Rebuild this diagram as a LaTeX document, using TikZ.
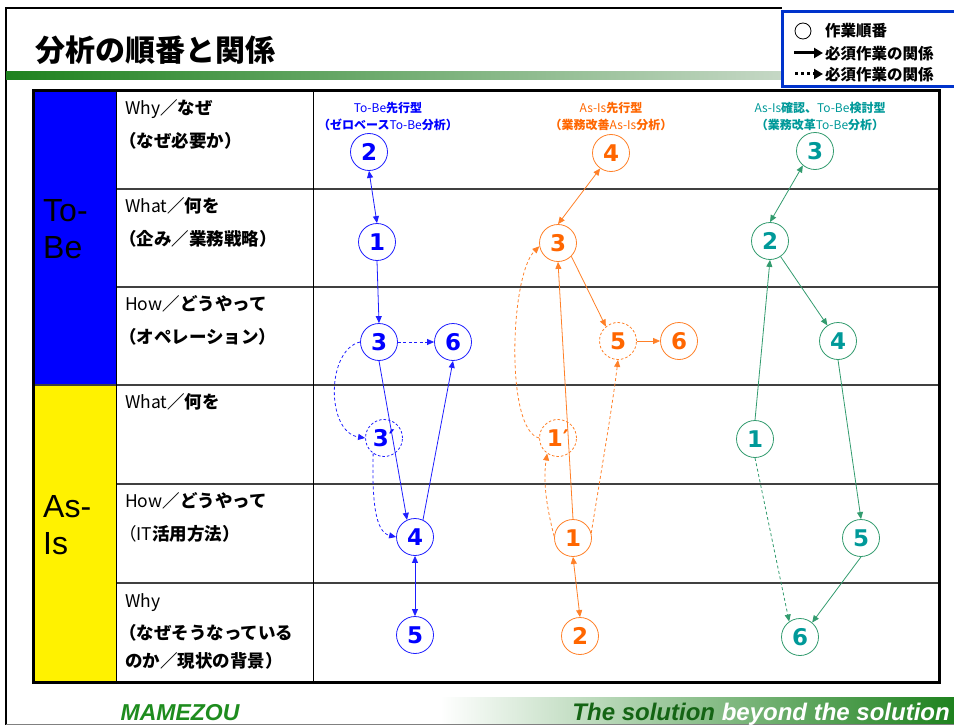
\documentclass[tikz,border=0pt]{standalone}
\usepackage{fontspec}
\setmainfont{Noto Sans CJK JP}
\newfontfamily\numfont{DejaVu Sans}
\newfontfamily\latfont{Liberation Sans}
\usetikzlibrary{arrows.meta, positioning, calc}
\definecolor{mzblue}{RGB}{0,0,255}
\definecolor{mzblueline}{RGB}{30,30,255}
\definecolor{mzorange}{RGB}{255,102,0}
\definecolor{mzorangeline}{RGB}{255,128,40}
\definecolor{mzteal}{RGB}{0,153,153}
\definecolor{mztealline}{RGB}{50,155,110}
\definecolor{mzgreen}{RGB}{30,130,30}
\definecolor{mzdarkgreen}{RGB}{20,100,20}
\definecolor{mzlogo}{RGB}{30,140,30}
\definecolor{mzlegend}{RGB}{0,51,204}

\tikzset{
  stepnode/.style={circle, draw, line width=0.8pt, minimum size=37pt, inner sep=0pt,
    font=\numfont\bfseries\fontsize{23}{23}\selectfont},
  dstepnode/.style={stepnode, dash pattern=on 2.5pt off 2pt},
  link/.style={-{Triangle[length=7pt,width=6pt]}, line width=0.8pt},
  dlink/.style={link, dash pattern=on 3pt off 2.5pt},
  blink/.style={{Triangle[length=7pt,width=6pt]}-{Triangle[length=7pt,width=6pt]}, line width=0.8pt},
  rowtext/.style={anchor=base west, inner sep=0pt, font=\fontsize{17.5}{20}\selectfont},
  colhead/.style={align=center, inner sep=0pt, font=\bfseries\fontsize{12}{17}\selectfont},
  sidetext/.style={anchor=base west, inner sep=0pt, font=\latfont\fontsize{32}{32}\selectfont},
  legendtext/.style={anchor=west, inner sep=0pt, font=\bfseries\fontsize{15.5}{15.5}\selectfont},
  rowline/.style={line width=1.5pt, black!75},
}

\begin{document}
\begin{tikzpicture}[x=1pt, y=-1pt]
\useasboundingbox (0,0) rectangle (954,725);
% Frame and title
\draw[line width=1.5pt] (6,725) -- (6,8) -- (782,8);
\shade[left color=mzgreen, right color=black!8] (6,72) rectangle (954,80);
\node[anchor=base west, inner sep=0pt, font=\bfseries\fontsize{30}{30}\selectfont] (title) at (35,62) {分析の順番と関係};
% Legend
\draw[mzlegend, line width=3pt, fill=white] (782,12) rectangle (962,87);
\node[circle, draw, line width=0.8pt, minimum size=16pt, inner sep=0pt] (lgstep) at (803,31) {};
\node[legendtext] (lgtxtA) at (825,31) {作業順番};
\coordinate (lgA1) at (794,53);
\coordinate (lgA2) at (823,53);
\draw[line width=3pt, -{Triangle[length=9pt,width=10pt]}] (lgA1) -- (lgA2);
\node[legendtext] (lgtxtB) at (825,54) {必須作業の関係};
\coordinate (lgB1) at (795,74);
\coordinate (lgB2) at (823,74);
\draw[line width=3pt, dash pattern=on 3pt off 3pt, -{Triangle[length=9pt,width=10pt]}] (lgB1) -- (lgB2);
\node[legendtext] (lgtxtC) at (825,75) {必須作業の関係};
% Table
\fill[blue] (33,91) rectangle (116,385);
\fill[yellow] (33,385) rectangle (116,682);
\foreach \ry in {189,287,484,583}
  \draw[rowline] (116,\ry) -- (939,\ry);
\draw[rowline] (33,385) -- (939,385);
\draw[line width=1pt] (116,91) -- (116,682) (313,91) -- (313,682);
\draw[line width=3pt] (33,91) rectangle (939,682);
\node[sidetext] (tobeA) at (43,221) {To-};
\node[sidetext] (tobeB) at (43,258) {Be};
\node[sidetext] (asisA) at (43,517) {As-};
\node[sidetext] (asisB) at (43,554) {Is};
% Row labels
\node[rowtext] (whyA) at (125,114) {Why\textbf{／なぜ}};
\node[rowtext] (whyB) at (119,147) {\textbf{（なぜ必要か）}};
\node[rowtext] (whatA) at (125,212) {What\textbf{／何を}};
\node[rowtext] (whatB) at (119,245) {\textbf{（企み／業務戦略）}};
\node[rowtext] (howA) at (125,310) {How\textbf{／どうやって}};
\node[rowtext] (howB) at (119,343) {\textbf{（オペレーション）}};
\node[rowtext] (whatC) at (125,408) {What\textbf{／何を}};
\node[rowtext] (howC) at (125,507) {How\textbf{／どうやって}};
\node[rowtext] (howD) at (119,540) {（IT\textbf{活用方法）}};
\node[rowtext] (whyC) at (125,607) {Why};
\node[rowtext] (whyD) at (119,639) {\textbf{（なぜそうなっている}};
\node[rowtext] (whyE) at (125,667) {\textbf{のか／現状の背景）}};
% Column heads
\node[colhead, text=mzblue] (hdblue) at (388,116) {{\mdseries To-Be}先行型\\（ゼロベース{\mdseries To-Be}分析）};
\node[colhead, text=mzorange] (hdorange) at (611,116) {{\mdseries As-Is}先行型\\（業務改善{\mdseries As-Is}分析）};
\node[colhead, text=mzteal] (hdteal) at (820,116) {{\mdseries As-Is}確認、{\mdseries To-Be}検討型\\（業務改革{\mdseries To-Be}分析）};
% To-Be first
\node[stepnode, draw=mzblueline, text=mzblue] (b2) at (369,152) {2};
\node[stepnode, draw=mzblueline, text=mzblue] (b1) at (377,242) {1};
\node[stepnode, draw=mzblueline, text=mzblue] (b3) at (379,342) {3};
\node[stepnode, draw=mzblueline, text=mzblue] (b6) at (453,342) {6};
\node[dstepnode, draw=mzblueline, text=mzblue] (b3d) at (384,438) {3′};
\node[stepnode, draw=mzblueline, text=mzblue] (b4) at (415,537) {4};
\node[stepnode, draw=mzblueline, text=mzblue] (b5) at (415,635) {5};
\draw[blink, mzblueline] (b2.south) -- (b1.north);
\draw[link, mzblueline] (b1.south) -- (b3.north);
\draw[dlink, mzblueline] (b3.east) -- (b6.west);
\draw[link, mzblueline] (b3.south) -- (b4.115);
\draw[link, mzblueline] (b4.65) -- (b6.south);
\draw[dlink, mzblueline] (b3.west) .. controls (326,350) and (326,432) .. (b3d.west);
\draw[dlink, mzblueline] (b3d.235) .. controls (372,500) and (375,532) .. (b4.west);
\draw[blink, mzblueline] (b4.south) -- (b5.north);
% As-Is first
\node[stepnode, draw=mzorangeline, text=mzorange] (o4) at (611,153) {4};
\node[stepnode, draw=mzorangeline, text=mzorange] (o3) at (558,243) {3};
\node[dstepnode, draw=mzorangeline, text=mzorange] (o5) at (618,341) {5};
\node[stepnode, draw=mzorangeline, text=mzorange] (o6) at (679,341) {6};
\node[dstepnode, draw=mzorangeline, text=mzorange] (o1d) at (558,438) {1′};
\node[stepnode, draw=mzorangeline, text=mzorange] (o1) at (573,538) {1};
\node[stepnode, draw=mzorangeline, text=mzorange] (o2) at (580,636) {2};
\draw[blink, mzorangeline] (o4.235) -- (o3.north);
\draw[link, mzorangeline] (o3.-45) -- (o5.130);
\draw[link, mzorangeline] (o5) -- (o6);
\draw[link, mzorangeline] (o1.north) -- (o3.south);
\draw[dlink, mzorangeline] (o1.175) .. controls (546,505) and (543,480) .. (o1d.235);
\draw[dlink, mzorangeline] (o1.15) .. controls (598,490) and (612,410) .. (o5.south);
\draw[dlink, mzorangeline] (o1d.west) .. controls (505,430) and (510,275) .. (o3.190);
\draw[blink, mzorangeline] (o1.south) -- (o2.north);
% As-Is check, To-Be study
\node[stepnode, draw=mztealline, text=mzteal] (t3) at (815,151) {3};
\node[stepnode, draw=mztealline, text=mzteal] (t2) at (770,241) {2};
\node[stepnode, draw=mztealline, text=mzteal] (t4) at (838,341) {4};
\node[stepnode, draw=mztealline, text=mzteal] (t1) at (755,439) {1};
\node[stepnode, draw=mztealline, text=mzteal] (t5) at (861,538) {5};
\node[stepnode, draw=mztealline, text=mzteal] (t6) at (800,637) {6};
\draw[blink, mztealline] (t3.230) -- (t2.north);
\draw[link, mztealline] (t1.north) -- (t2.south);
\draw[link, mztealline] (t2) -- (t4);
\draw[link, mztealline] (t4.south) -- (t5.north);
\draw[link, mztealline] (t5.south) -- (t6.50);
\draw[dlink, mztealline] (t1.south) -- (t6.125);
% Footer
\shade[left color=white, right color=mzgreen] (440,697) rectangle (954,725);
\draw[black!50, line width=0.8pt] (6,724) -- (954,724);
\node[anchor=base, inner sep=0pt, text=mzlogo, font=\latfont\bfseries\itshape\fontsize{23}{23}\selectfont] (logo) at (180,720) {MAMEZOU};
\node[anchor=base east, inner sep=0pt, font=\latfont\bfseries\itshape\fontsize{24}{24}\selectfont] (slogan) at (950,720) {\textcolor{mzdarkgreen}{The solution} \textcolor{white}{beyond the solution}};
\end{tikzpicture}
\end{document}
